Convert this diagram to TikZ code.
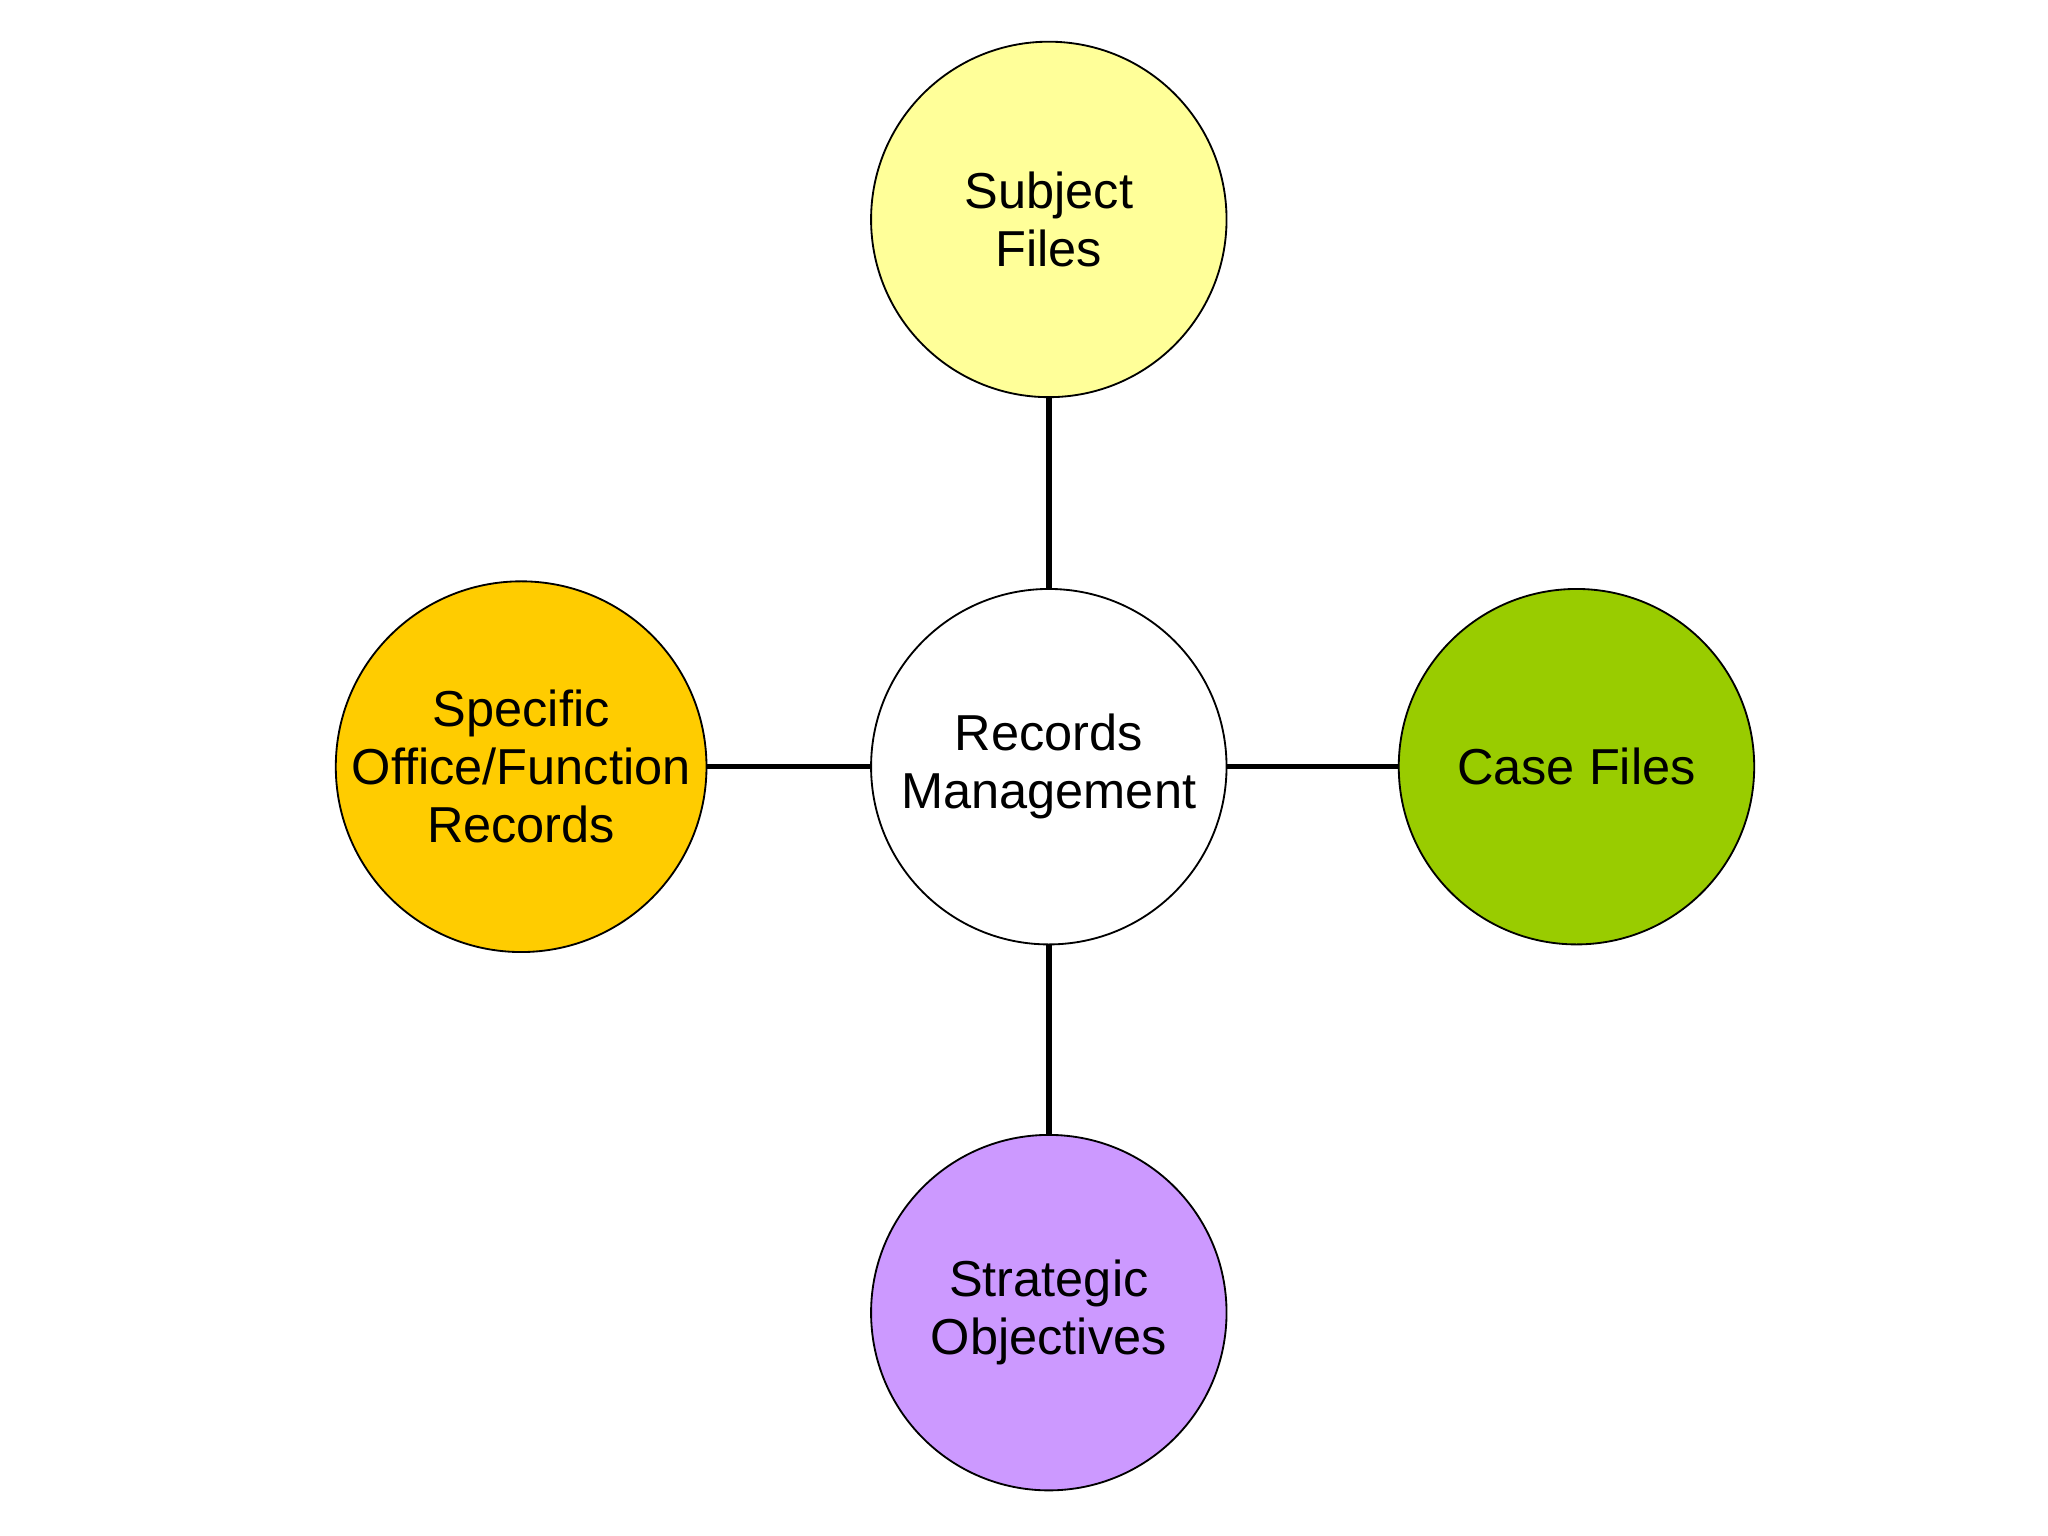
\documentclass[tikz,border=0pt]{standalone}
\usepackage{fontspec}
\setmainfont{Liberation Sans}
\usetikzlibrary{positioning}

\definecolor{subjyellow}{RGB}{255,255,153}
\definecolor{officeorange}{RGB}{255,204,0}
\definecolor{casegreen}{RGB}{153,204,0}
\definecolor{stratpurple}{RGB}{204,153,255}

\begin{document}
\begin{tikzpicture}[x=0.01cm, y=-0.01cm,
		topic/.style={circle, draw=black, thin, minimum size=2.72cm, inner sep=0pt, align=center, font=\fontsize{11}{12.6}\selectfont},
		link/.style={draw=black, line width=1.2pt}]
		\useasboundingbox (0,0) rectangle (1568,1176);
		\node[topic, fill=white] (rm) at (803,587) {Records\\Management};
		\node[topic, fill=subjyellow] (subj) at (803,168) {Subject\\Files};
		\node[topic, fill=officeorange] (office) at (399,587) {Specific\\Office/Function\\Records};
		\node[topic, fill=casegreen] (case) at (1207,587) {Case Files};
		\node[topic, fill=stratpurple] (strat) at (803,1005) {Strategic\\Objectives};

		\draw[link] (rm) -- (subj);
		\draw[link] (rm) -- (office);
		\draw[link] (rm) -- (case);
		\draw[link] (rm) -- (strat);
	\end{tikzpicture}
\end{document}
